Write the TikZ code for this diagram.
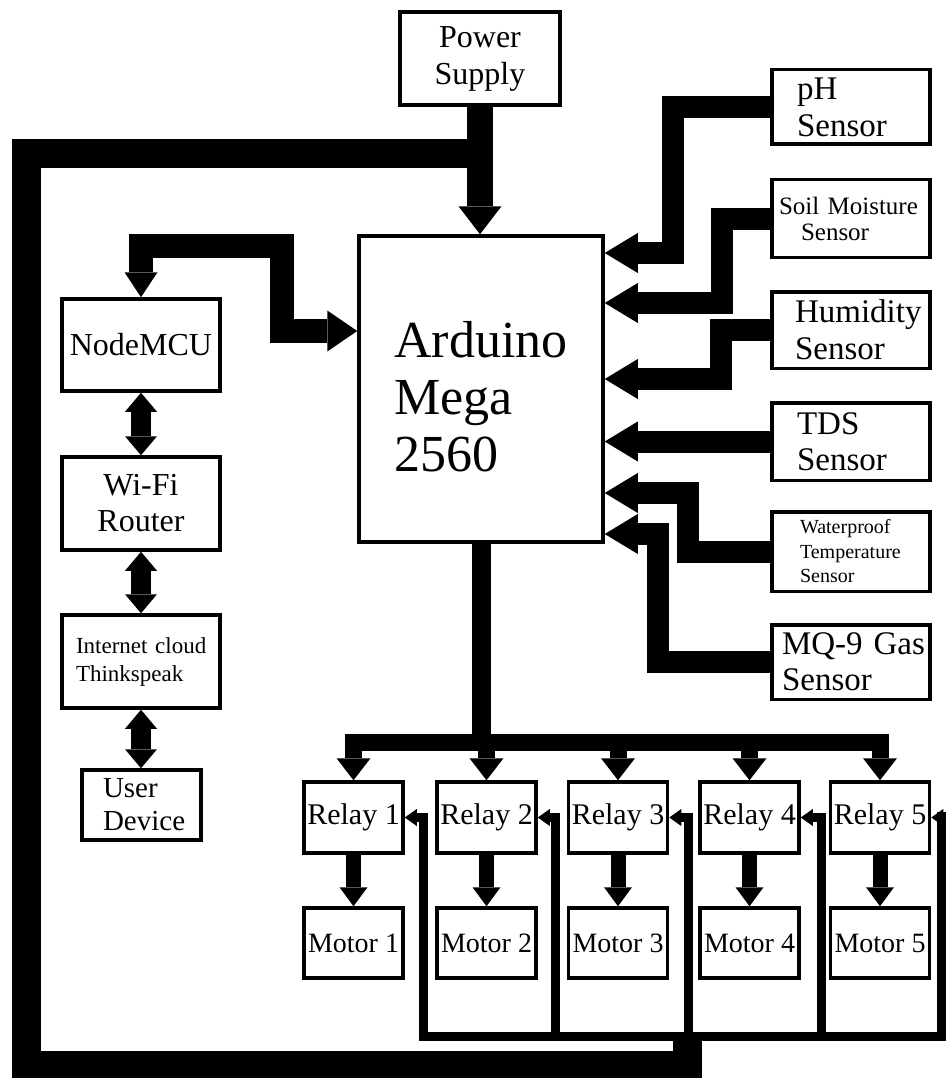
\documentclass[tikz,border=0pt]{standalone}
\usepackage{fontspec}
\setmainfont{Liberation Serif}
\usetikzlibrary{arrows.meta}
\tikzset{
  TPS/.tip={Triangle[width=43pt,length=28pt,line width=0pt]},
  TNM/.tip={Triangle[width=33pt,length=25pt,line width=0pt]},
  TAR/.tip={Triangle[width=41pt,length=30pt,line width=0pt]},
  TLC/.tip={Triangle[width=32pt,length=19pt,line width=0pt]},
  TSE/.tip={Triangle[width=40pt,length=33pt,line width=0pt]},
  TRL/.tip={Triangle[width=34pt,length=22pt,line width=0pt]},
  TMO/.tip={Triangle[width=28pt,length=19pt,line width=0pt]},
  TFD/.tip={Triangle[width=17pt,length=12pt,line width=0pt]},
  box/.style={draw, line width=3.5pt, inner sep=0pt, align=center},
  sz/.style 2 args={minimum width=#1pt, minimum height=#2pt},
  fs/.style 2 args={font=\fontsize{#1pt}{#2pt}\selectfont},
  lft/.style={align=left, text width=#1pt},
  pipe/.style={line width=#1pt, line join=miter},
}
\begin{document}
\begin{tikzpicture}[x=1pt,y=-1pt]
\useasboundingbox (0,0) rectangle (947,1078);
% ---------- boxes ----------
\node[box, sz={160}{93}, fs={32}{37}] (ps) at (480,58.5) {Power\\Supply};
\node[box, sz={244}{306}, fs={52}{57}] (ard) at (481,389)
  {\begin{tabular}{@{}l@{}}\rule{0pt}{68pt}Arduino\\Mega\\2560\end{tabular}};
\node[box, sz={158}{92}, fs={32}{36}] (nm) at (141,345) {NodeMCU};
\node[box, sz={158}{93}, fs={32}{36}] (wifi) at (141,503.5) {Wi-Fi\\Router};
\node[box, sz={158}{93}, fs={23}{28}, lft=130] (cloud) at (141,661.5) {\mbox{Internet cloud}\\\mbox{Thinkspeak}};
\node[box, sz={119}{70}, fs={29}{33}, lft=77] (user) at (141.5,805) {\mbox{User}\\\mbox{Device}};
% sensors
\node[box, sz={158}{74.5}, fs={33}{37}, lft=108] (ph) at (851,107) {\mbox{pH}\\\mbox{Sensor}};
\node[box, sz={158}{77.5}, fs={25}{26}, lft=144] (soil) at (851,218.5) {\mbox{Soil Moisture}\\\mbox{\hspace*{22pt}Sensor}};
\node[box, sz={158}{76.5}, fs={33}{37}, lft=112] (hum) at (851,330) {\mbox{Humidity}\\\mbox{Sensor}};
\node[box, sz={158}{77.5}, fs={33}{36}, lft=108] (tds) at (851,441.5) {\mbox{TDS}\\\mbox{Sensor}};
\node[box, sz={158}{79.5}, fs={20}{24.5}, lft=102] (wp) at (851,551.5) {\mbox{Waterproof}\\\mbox{Temperature}\\\mbox{Sensor}};
\node[box, sz={158}{74.5}, fs={33}{36}, lft=138] (mq) at (851,662) {\mbox{MQ-9 Gas}\\\mbox{Sensor}};
% relays and motors
\foreach \i/\x in {1/353.5,2/486.5,3/618,4/749.5,5/880}{
  \node[box, sz={99}{71}, fs={30}{34}] (r\i) at (\x,817.5) {Relay \i};
  \node[box, sz={99}{70}, fs={28}{32}] (m\i) at (\x,943) {Motor \i};
}
% ---------- connectors ----------
% power supply
\draw[pipe=26, -{TPS}] (ps.south) -- (ps.south |- ard.north);
\draw[pipe=29] (ps.south |- 0,154) -- (26,154) -- (26,1065) -- (687.5,1065) -- (687.5,1036);
% NodeMCU <-> Arduino
\draw[pipe=24, {TNM}-{TAR}] (nm.north) -- (nm.north |- 0,246) -- (282,246) -- (282,331) -- (ard.west |- 0,331);
% left column
\draw[pipe=20, {TLC}-{TLC}] (nm.south) -- (wifi.north);
\draw[pipe=20, {TLC}-{TLC}] (wifi.south) -- (cloud.north);
\draw[pipe=20, {TLC}-{TLC}] (cloud.south) -- (cloud.south |- user.north);
% sensors
\draw[pipe=22, -{TSE}] (ph.west) -| (673,253) -- (ard.east |- 0,253);
\draw[pipe=22, -{TSE}] (soil.west) -| (722,303) -- (ard.east |- 0,303);
\draw[pipe=22, -{TSE}] (hum.west) -| (721,379) -- (ard.east |- 0,379);
\draw[pipe=22, -{TSE}] (tds.west) -- (ard.east |- tds.west);
\draw[pipe=22, -{TSE}] (wp.west) -| (688,493) -- (ard.east |- 0,493);
\draw[pipe=22, -{TSE}] (mq.west) -| (658,534) -- (ard.east |- 0,534);
% relay bus
\draw[pipe=19] (ard.south) -- (ard.south |- 0,742);
\draw[pipe=17, {TRL}-{TRL}] (r1.north) -- (r1.north |- 0,742) -- (r5.north |- 0,742) -- (r5.north);
\foreach \i in {2,3,4}{
  \draw[pipe=17, -{TRL}] (r\i.north |- 0,742) -- (r\i.north);
}
\foreach \i in {1,...,5}{
  \draw[pipe=15, -{TMO}] (r\i.south) -- (m\i.north);
}
% relay feed lines
\coordinate (f1) at (423.5,1036);
\coordinate (f2) at (555,1036);
\coordinate (f3) at (688,1036);
\coordinate (f4) at (821.5,1036);
\coordinate (f5) at (941.5,1036);
\coordinate (f5t) at (946,817.5);
\draw[pipe=9, {TFD}-] (r1.east) -| (f1) -- (f5) -- (f5 |- 0,812);
\draw[pipe=9, -{TFD}] (f2) |- (r2.east);
\draw[pipe=9, -{TFD}] (f3) |- (r3.east);
\draw[pipe=9, -{TFD}] (f4) |- (r4.east);
\draw[pipe=9, -{TFD}] (f5t) -- (r5.east);
\end{tikzpicture}
\end{document}
